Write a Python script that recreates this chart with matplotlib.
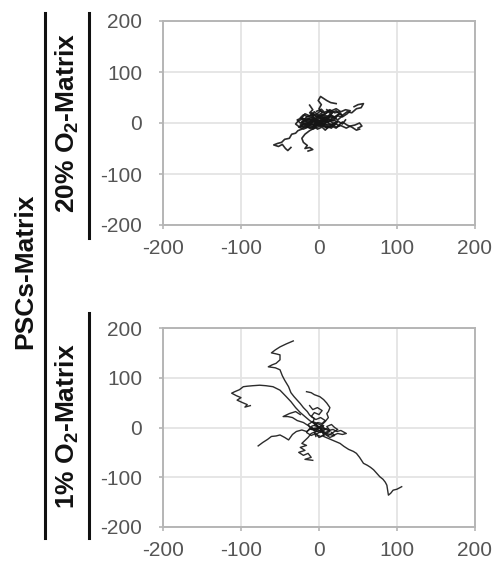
import matplotlib
matplotlib.use("Agg")
import matplotlib.pyplot as plt
from matplotlib.lines import Line2D

plt.rcParams['font.family'] = ['Liberation Sans', 'DejaVu Sans']
plt.rcParams['mathtext.fontset'] = 'custom'
plt.rcParams['mathtext.rm'] = 'Liberation Sans'
plt.rcParams['mathtext.bf'] = 'Liberation Sans:bold'

# ---- data: cell migration tracks (x, y in um), all starting at origin ----
top_tracks = [
    [(0,0),(-5,-3),(-10,-2),(-14,-8),(-18,-6),(-22,-12),(-27,-15),(-30,-20),(-35,-22),(-38,-30),(-44,-32),(-48,-38),(-53,-40),(-58,-43),(-52,-46),(-47,-42),(-43,-50),(-40,-54),(-36,-48)],
    [(0,0),(-6,-10),(-12,-15),(-18,-22),(-22,-30),(-20,-38),(-15,-44),(-18,-50),(-12,-48),(-8,-52),(-14,-55)],
    [(0,0),(5,6),(10,4),(14,12),(20,10),(26,18),(30,15),(36,22),(42,20),(48,28),(54,30),(57,38),(50,36),(45,32)],
    [(0,0),(3,8),(-2,14),(4,20),(0,28),(3,36),(-1,44),(2,52),(6,48),(10,44),(15,40),(22,38)],
    [(0,0),(8,-4),(15,-2),(22,-8),(28,-5),(35,-10),(40,-6),(46,-4),(52,0),(55,-6),(50,-10)],
    [(0,0),(-8,4),(-15,2),(-20,8),(-26,5),(-30,-2),(-25,-8),(-18,-5),(-12,-10),(-6,-6),(-2,-12),(4,-8),(8,-14),(12,-8)],
    [(0,0),(4,-6),(-3,-4),(-8,-10),(-4,4),(-10,10),(-6,16),(-12,20),(-8,26),(-12,35)],
    [(0,0),(6,8),(12,2),(18,12),(24,6),(30,14),(26,22),(20,20),(14,26),(8,18),(2,24),(-4,16),(-10,20),(-6,8)],
    [(0,0),(-5,6),(3,10),(10,8),(16,16),(12,22),(6,16),(0,14),(-6,22),(-12,14),(-18,18),(-22,10)],
    [(0,0),(5,-3),(10,2),(15,-4),(20,0),(25,-5),(30,2),(36,-4),(42,-8),(48,-14),(52,-12)],
    [(0,0),(-10,-4),(-18,0),(-24,-4),(-20,4),(-12,8),(-4,2),(6,-2),(14,4),(20,-2),(16,-10),(8,-6),(0,-2)],
    [(0,0),(8,6),(4,12),(-4,10),(-10,4),(-16,-4),(-8,-8),(0,-4),(10,-8),(18,-2),(24,4),(30,-2),(34,6)],
    [(0,0),(-6,3),(-12,-1),(-18,4),(-24,0),(-28,6),(-22,10),(-16,6),(-10,12),(-4,8),(2,14),(8,10),(14,16),(20,12),(26,18),(22,24),(16,20),(10,26)],
    [(0,0),(4,4),(-2,6),(-8,2),(-14,-4),(-20,-2),(-26,-8),(-20,-12),(-14,-8),(-8,-12),(-2,-8),(4,-4),(10,-10),(16,-6),(22,-10),(26,-4)],
    [(0,0),(6,2),(12,8),(18,4),(22,10),(16,14),(10,10),(4,16),(-2,12),(-8,18),(-14,12),(-20,16),(-24,10),(-18,4),(-12,8),(-6,2)],
    [(0,0),(2,-6),(8,-2),(14,-8),(20,-4),(24,2),(18,6),(12,2),(6,8),(0,4),(-6,10),(-12,4),(-18,8),(-22,2),(-16,-4),(-10,0)],
    [(0,0),(10,5),(18,8),(24,14),(30,12),(36,18),(40,24),(34,26),(28,22),(22,28),(16,24)],
    [(0,0),(-3,5),(-9,3),(-13,9),(-19,7),(-15,13),(-7,15),(-1,11),(5,17),(11,13),(17,19),(13,25),(7,21),(3,27),(-3,23)],
    [(0,0),(-4,-5),(-11,-3),(-17,-9),(-23,-7),(-19,-1),(-13,1),(-7,-3),(-1,3),(5,-1),(11,5),(9,11),(3,9),(-3,13)],
]

bottom_tracks = [
    [(0,0),(-3,6),(-8,10),(-6,18),(-12,25),(-15,32),(-20,40),(-24,48),(-28,55),(-32,62),(-36,70),(-39,82),(-44,95),(-47,104),(-50,116),(-56,120),(-65,122),(-60,126),(-55,129),(-50,136),(-50,146),(-55,148),(-61,150),(-56,156),(-50,162),(-42,168),(-33,174)],
    [(0,0),(-6,8),(-12,14),(-18,22),(-24,30),(-30,40),(-36,52),(-42,62),(-50,75),(-59,82),(-68,84),(-76,85),(-85,84),(-92,83),(-97,82),(-102,76),(-108,72),(-112,69),(-106,64),(-100,60),(-105,55),(-98,50),(-92,46),(-95,41),(-88,44)],
    [(0,0),(-5,-4),(-10,-2),(-16,-8),(-22,-5),(-29,-8),(-34,-14),(-39,-25),(-44,-20),(-50,-15),(-55,-17),(-61,-18),(-66,-24),(-72,-30),(-78,-37)],
    [(0,0),(4,-6),(6,-12),(6,-18),(12,-22),(18,-26),(27,-32),(32,-38),(38,-44),(44,-48),(48,-52),(52,-60),(57,-72),(62,-76),(66,-80),(70,-85),(74,-92),(78,-99),(82,-104),(85,-110),(87,-116),(88,-126),(89,-136),(92,-132),(95,-126),(100,-124),(106,-119)],
    [(0,0),(-4,-8),(-10,-12),(-14,-20),(-18,-26),(-22,-32),(-16,-36),(-24,-40),(-18,-46),(-26,-50),(-20,-56),(-14,-52),(-10,-60),(-18,-64),(-8,-66)],
    [(0,0),(4,6),(8,12),(12,20),(10,28),(12,32),(14,40),(10,49),(6,56),(1,62),(-6,66),(-10,70),(-16,72)],
    [(0,0),(6,-2),(12,-6),(18,-4),(23,-8),(28,-6),(35,-12),(30,-14),(24,-12),(18,-16),(10,-12)],
    [(0,0),(-6,4),(-2,10),(4,8),(8,14),(2,20),(-4,16),(-10,22),(-6,30),(0,26),(4,34),(-2,40),(-8,36),(-12,44)],
    [(0,0),(-8,-2),(-14,4),(-20,10),(-28,14),(-34,20),(-40,22),(-46,22),(-38,28),(-30,32),(-24,26)],
    [(0,0),(6,4),(2,-4),(8,-10),(14,-6),(10,2),(16,6),(20,0),(24,-4),(18,-10),(12,-16),(6,-10),(0,-6),(-6,-10),(-4,-18)],
    [(0,0),(-4,6),(-10,2),(-6,-6),(2,-10),(8,-4),(4,4),(-2,8),(-8,12),(-14,6),(-10,-4),(-2,-2)],
    [(0,0),(4,-4),(10,-2),(14,-8),(8,-12),(2,-8),(-4,-14),(2,-18),(8,-14),(14,-20),(20,-16),(16,-10)],
    [(0,0),(-6,-6),(-12,-2),(-16,-10),(-10,-16),(-4,-12),(0,-20),(6,-16),(4,-8),(-2,-4)],
]

ticks = [-200, -100, 0, 100, 200]
tick_labels = ['-200', '-100', '0', '100', '200']
row_labels = ['20% O$_{\\mathbf{2}}$-Matrix', '1% O$_{\\mathbf{2}}$-Matrix']
group_label = 'PSCs-Matrix'

fig = plt.figure(figsize=(4.92, 5.62), dpi=100)
W, H = 492, 562
ax_top = fig.add_axes([163/W, 1-225/H, 312/W, 204/H])
ax_bot = fig.add_axes([163/W, 1-527/H, 312/W, 199/H])

for ax, tracks, lw in [(ax_top, top_tracks, 1.2), (ax_bot, bottom_tracks, 1.0)]:
    for tr in tracks:
        xs = [p[0] for p in tr]
        ys = [p[1] for p in tr]
        ax.plot(xs, ys, color='#151515', lw=lw, alpha=0.9, zorder=3)
    ax.set_xlim(-200, 200)
    ax.set_ylim(-200, 200)
    ax.set_xticks(ticks)
    ax.set_yticks(ticks)
    ax.set_xticklabels(tick_labels)
    ax.set_yticklabels(tick_labels)
    ax.grid(True, color='#e4e4e4', lw=1.3, zorder=0)
    ax.set_axisbelow(True)
    for s in ax.spines.values():
        s.set_color('#b5b5b5')
        s.set_linewidth(1.4)
    ax.tick_params(axis='both', colors='#b5b5b5', length=3, width=1.2,
                   labelcolor='#555555', labelsize=15)
    ax.tick_params(axis='y', pad=12)
    ax.tick_params(axis='x', pad=7)

# row labels
fig.text(67/W, 1-123/H, row_labels[0], rotation=90, ha='center', va='center',
         fontsize=19, fontweight='bold', color='#111111')
fig.text(67/W, 1-426/H, row_labels[1], rotation=90, ha='center', va='center',
         fontsize=19, fontweight='bold', color='#111111')
fig.text(25/W, 1-271/H, group_label, rotation=90, ha='center', va='center',
         fontsize=19, fontweight='bold', color='#111111')

# separator lines
fig.add_artist(Line2D([89/W, 89/W], [1-13/H, 1-238/H], color='#111111', lw=2.2))
fig.add_artist(Line2D([89/W, 89/W], [1-313/H, 1-538/H], color='#111111', lw=2.2))
fig.add_artist(Line2D([45/W, 45/W], [1-13/H, 1-538/H], color='#111111', lw=2.2))

fig.savefig('out.png', dpi=100, facecolor='white')
